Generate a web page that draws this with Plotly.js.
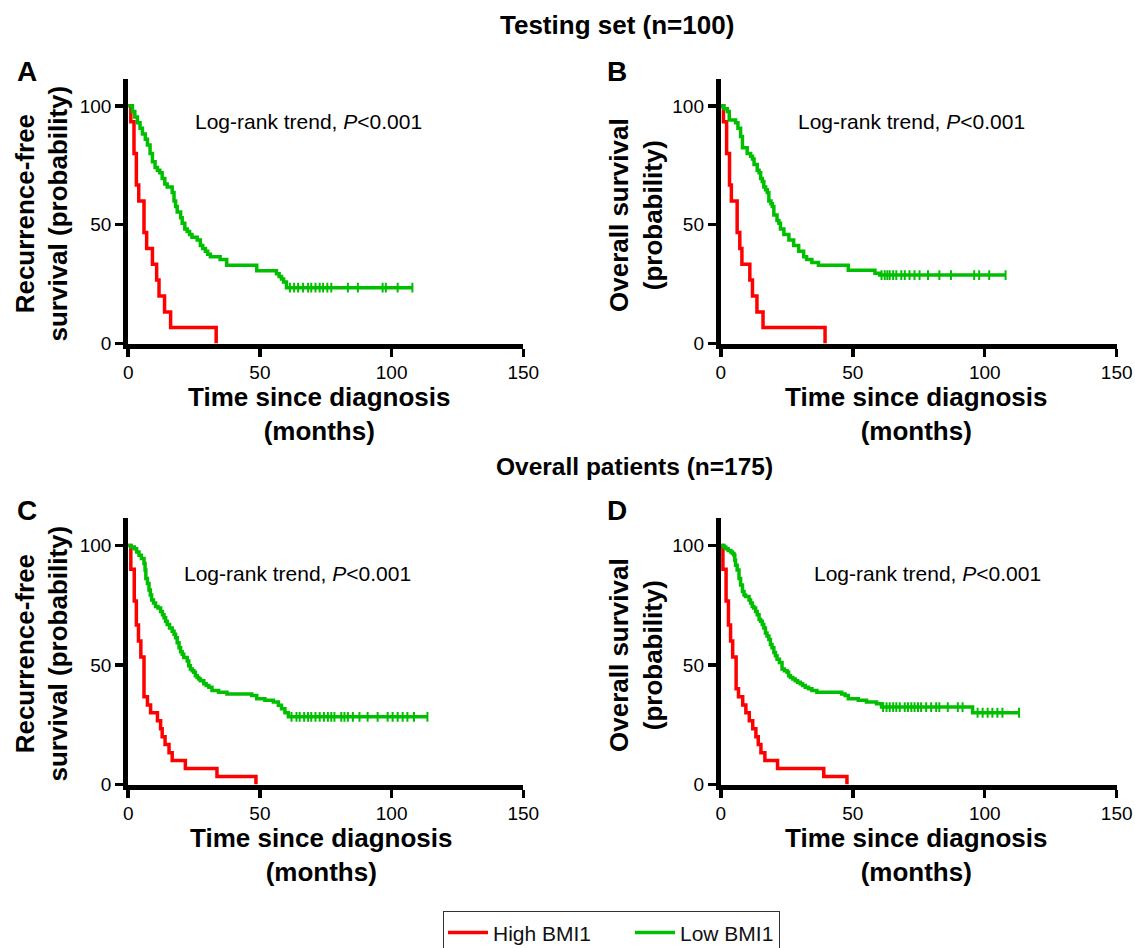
<!DOCTYPE html>
<html><head><meta charset="utf-8">
<script src="https://cdn.plot.ly/plotly-3.0.1.min.js"></script>
<style>html,body{margin:0;padding:0;background:#fff}#chart{width:1135px;height:948px}</style>
</head><body><div id="chart"></div>
<script>
// ---------- DATA ----------
const xTicks = [0, 50, 100, 150];
const yTicks = [0, 50, 100];
const seriesNames = ["High BMI1", "Low BMI1"];

// Panel A: testing set, recurrence-free survival
const rfsTestHighT = [0, 1.0, 2.2, 3.1, 4.0, 6.0, 7.0, 9.2, 10.8, 11.7, 13.8, 16.1, 33.4];
const rfsTestHighS = [100, 93.3, 80, 66.7, 60, 46.7, 40, 33.3, 26.7, 20, 13.3, 6.7, 0];
const rfsTestLowT = [0, 1.6, 2.5, 3.5, 4.5, 5.4, 6.5, 7.3, 8.3, 9.2, 10.2, 11.1, 12.0, 12.9, 13.9, 14.8, 16.7, 17.4, 18.0, 18.6, 19.9, 20.5, 21.5, 22.4, 23.3, 24.2, 26.2, 27.4, 28.3, 29.3, 30.2, 31.2, 34.9, 37.4, 48.8, 56.3, 57.3, 58.2, 59.0, 60.1, 108];
const rfsTestLowS = [100, 97.6, 95.3, 92.9, 90.6, 88.2, 85.9, 83.5, 80.0, 76.5, 74.1, 72.9, 71.8, 69.4, 67.1, 65.9, 63.5, 60.0, 57.6, 55.3, 52.9, 50.6, 48.2, 47.1, 45.9, 44.7, 43.5, 41.2, 40.0, 38.8, 37.6, 36.5, 35.3, 32.9, 30.6, 29.4, 28.2, 27.1, 25.9, 23.5, 23.5];
const rfsTestLowCens = [61.4, 63.0, 64.5, 66.4, 68.3, 69.5, 71.1, 72.7, 74.0, 75.6, 77.1, 83.4, 87.2, 96.6, 97.8, 102.3, 107.9];

// Panel B: testing set, overall survival
const osTestHighT = [0, 1.0, 2.2, 3.3, 4.0, 6.2, 7.2, 8.0, 11.0, 12.0, 13.7, 16.0, 39.5];
const osTestHighS = [100, 93.3, 80, 66.7, 60, 46.7, 40, 33.3, 26.7, 20, 13.3, 6.7, 0];
const osTestLowT = [0, 1.2, 2.5, 3.2, 5.6, 6.5, 7.5, 8.2, 10.0, 11.3, 12.0, 12.6, 13.8, 14.5, 15.1, 15.7, 16.3, 17.0, 17.6, 18.2, 19.0, 19.5, 20.1, 21.3, 22.0, 22.6, 23.9, 25.8, 27.6, 29.5, 31.4, 32.5, 34.5, 37.0, 48.3, 58.4, 60.2, 108];
const osTestLowS = [100, 98.8, 97.6, 94.1, 92.9, 90.6, 87.1, 82.4, 80.0, 78.8, 77.6, 75.3, 72.9, 71.8, 69.4, 68.2, 65.9, 64.7, 63.5, 60.0, 58.8, 57.6, 54.1, 51.8, 50.6, 48.2, 45.9, 43.5, 41.2, 38.8, 36.5, 35.3, 34.1, 32.9, 30.8, 29.6, 28.8, 28.8];
const osTestLowCens = [60.9, 62.1, 63.1, 64.0, 65.3, 66.5, 68.4, 69.7, 71.5, 73.4, 75.3, 78.5, 82.8, 87.2, 96.0, 97.9, 101.7, 107.9];

// Panel C: overall patients, recurrence-free survival
const rfsAllHighT = [0, 1.0, 2.3, 3.1, 3.9, 4.8, 6.0, 7.3, 8.5, 11.1, 12.3, 12.9, 14.0, 15.5, 16.7, 21.7, 33.7, 48.5];
const rfsAllHighS = [100, 90, 76.7, 66.7, 60, 53.3, 36.7, 33.3, 30, 26.7, 23.3, 20, 16.7, 13.3, 10, 6.7, 3.3, 0];
const rfsAllLowT = [0, 1.0, 2.3, 3.2, 4.1, 5.0, 6.0, 6.4, 6.7, 7.3, 7.9, 8.4, 8.9, 9.6, 10.4, 11.3, 12.3, 13.0, 13.6, 14.2, 14.8, 15.7, 16.7, 17.4, 18.0, 18.6, 19.3, 19.9, 20.5, 21.1, 22.4, 23.0, 23.6, 24.3, 24.9, 25.5, 26.2, 26.8, 27.4, 28.7, 29.6, 30.6, 31.8, 34.3, 37.5, 46.9, 48.8, 51.9, 55.1, 57.0, 58.2, 59.5, 60.8, 113.6];
const rfsAllLowS = [100, 99.3, 98.6, 97.2, 95.9, 94.5, 92.4, 89.7, 86.2, 84.1, 81.4, 79.3, 77.2, 75.9, 74.5, 73.8, 72.4, 71.0, 69.7, 68.3, 66.9, 65.5, 64.1, 62.8, 61.4, 59.3, 57.2, 55.5, 54.5, 53.1, 51.7, 49.7, 48.3, 47.6, 46.9, 45.5, 44.8, 44.1, 43.4, 42.1, 41.4, 40.7, 39.3, 38.6, 37.9, 37.2, 35.9, 35.2, 34.5, 33.1, 31.7, 30.0, 28.3, 28.3];
const rfsAllLowCens = [62.0, 63.9, 65.1, 66.8, 68.3, 69.5, 71.1, 72.7, 74.3, 75.8, 77.1, 78.3, 80.9, 82.1, 83.4, 85.3, 87.8, 90.9, 94.7, 98.5, 100.4, 102.3, 104.2, 106.0, 108.5, 113.6];

// Panel D: overall patients, overall survival
const osAllHighT = [0, 0.8, 2.0, 2.9, 3.7, 4.5, 5.8, 6.7, 8.3, 9.5, 10.8, 12.1, 13.3, 14.2, 15.2, 16.7, 21.5, 39.0, 47.8];
const osAllHighS = [100, 90, 76.7, 66.7, 60, 53.3, 40, 36.7, 33.3, 30, 26.7, 23.3, 20, 16.7, 13.3, 10, 6.7, 3.3, 0];
const osAllLowT = [0, 1.2, 1.9, 2.8, 3.8, 4.4, 5.0, 5.3, 5.6, 6.2, 6.9, 7.5, 8.2, 8.8, 9.4, 10.7, 11.3, 11.9, 12.5, 13.2, 13.8, 14.5, 15.1, 15.7, 16.3, 16.9, 17.5, 18.2, 18.8, 19.4, 20.1, 20.7, 21.3, 22.2, 23.2, 24.1, 25.1, 25.7, 26.4, 27.3, 28.2, 29.1, 30.1, 31.0, 32.0, 33.2, 34.5, 36.4, 45.8, 47.1, 48.3, 52.1, 55.2, 59.0, 60.9, 95.4, 113.0];
const osAllLowS = [100, 99.3, 98.6, 97.9, 97.2, 96.6, 95.9, 93.8, 91.7, 89.7, 86.2, 83.4, 80.7, 79.3, 78.6, 77.2, 75.9, 74.5, 73.8, 72.4, 71.0, 69.0, 68.3, 66.9, 65.5, 63.4, 62.1, 60.7, 58.6, 57.2, 55.2, 53.8, 52.4, 51.0, 48.3, 47.6, 46.9, 45.5, 44.8, 44.1, 43.4, 42.8, 42.1, 41.4, 40.7, 40.0, 39.3, 38.6, 37.9, 37.2, 35.9, 35.2, 34.5, 33.8, 32.4, 30.0, 30.0];
const osAllLowCens = [61.5, 62.8, 64.0, 65.3, 66.5, 67.8, 69.7, 70.9, 72.2, 73.4, 74.7, 75.9, 77.8, 79.7, 81.6, 82.8, 86.0, 89.8, 91.6, 97.3, 99.2, 101.1, 102.9, 104.8, 106.7, 113.0];

// ---------- LAYOUT / STYLE ----------
const W = 1135, H = 948;
const FONT = "Liberation Sans, Arial, Helvetica, sans-serif";
const RED = "#ff0000", GREEN = "#00bf00";
const fx = px => px / W;
const fy = px => 1 - px / H;

function stepAt(T, S, t) {
  let v = S[0];
  for (let i = 0; i < T.length; i++) { if (T[i] <= t) v = S[i]; }
  return v;
}

const panels = [
  {n: "", hT: rfsTestHighT, hS: rfsTestHighS, lT: rfsTestLowT, lS: rfsTestLowS, c: rfsTestLowCens, l: 128.2, r: 523.3, t: 79, b: 343.5},
  {n: "2", hT: osTestHighT, hS: osTestHighS, lT: osTestLowT, lS: osTestLowS, c: osTestLowCens, l: 720.8, r: 1116.7, t: 79, b: 343.5},
  {n: "3", hT: rfsAllHighT, hS: rfsAllHighS, lT: rfsAllLowT, lS: rfsAllLowS, c: rfsAllLowCens, l: 128.2, r: 523.3, t: 518.4, b: 784.5},
  {n: "4", hT: osAllHighT, hS: osAllHighS, lT: osAllLowT, lS: osAllLowS, c: osAllLowCens, l: 720.8, r: 1116.7, t: 518.4, b: 784.5}
];

const data = [];
const layout = {
  width: W, height: H,
  margin: {l: 0, r: 0, t: 0, b: 0, autoexpand: false},
  paper_bgcolor: "#fff", plot_bgcolor: "rgba(0,0,0,0)",
  font: {family: FONT, color: "#000"},
  showlegend: true,
  legend: {
    orientation: "h", x: fx(443), y: fy(911), xanchor: "left", yanchor: "top",
    bordercolor: "#333", borderwidth: 1.3, bgcolor: "#fff",
    font: {family: FONT, size: 21, color: "#111"}, itemwidth: 40
  },
  annotations: [], shapes: []
};

panels.forEach((p, i) => {
  const xa = "x" + p.n, ya = "y" + p.n;
  const axCommon = {
    showline: true, linewidth: 5, linecolor: "#000", mirror: false,
    ticks: "outside", ticklen: 8, tickwidth: 3.5, tickcolor: "#000",
    showgrid: false, zeroline: false, fixedrange: true,
    tickfont: {family: FONT, size: 19, color: "#000"}
  };
  layout["xaxis" + p.n] = Object.assign({}, axCommon, {
    domain: [fx(p.l), fx(p.r)], anchor: ya, range: [0, 150], tickvals: xTicks
  });
  layout["yaxis" + p.n] = Object.assign({}, axCommon, {
    domain: [fy(p.b), fy(p.t)], anchor: xa, range: [0, 111.3], tickvals: yTicks
  });
  const highTrace = {
    type: "scatter", mode: "lines", x: p.hT, y: p.hS, xaxis: xa, yaxis: ya,
    line: {color: RED, width: 3.5, shape: "hv"}, name: seriesNames[0],
    showlegend: i === 0, legendgroup: "high", hoverinfo: "skip"
  };
  if (i === 0) highTrace.legendwidth = 132;
  data.push(highTrace);
  data.push({
    type: "scatter", mode: "lines", x: p.lT, y: p.lS, xaxis: xa, yaxis: ya,
    line: {color: GREEN, width: 3.5, shape: "hv"}, name: seriesNames[1],
    showlegend: i === 0, legendgroup: "low", hoverinfo: "skip"
  });
  data.push({
    type: "scatter", mode: "markers", x: p.c, y: p.c.map(t => stepAt(p.lT, p.lS, t)),
    xaxis: xa, yaxis: ya, showlegend: false, legendgroup: "low", hoverinfo: "skip",
    marker: {symbol: "line-ns", size: 7, line: {color: GREEN, width: 2}, color: GREEN}
  });
});

// Text annotations
function ann(text, x, y, size, opts) {
  layout.annotations.push(Object.assign({
    text: text, xref: "paper", yref: "paper", x: fx(x), y: fy(y),
    xanchor: "center", yanchor: "middle", showarrow: false,
    font: {family: FONT, size: size, color: "#000"}
  }, opts || {}));
}
ann("<b>Testing set (n=100)</b>", 617, 25, 26);
ann("<b>Overall patients (n=175)</b>", 634, 466, 24.5);
ann("<b>A</b>", 27, 72, 28);
ann("<b>B</b>", 617, 72, 28);
ann("<b>C</b>", 27, 510, 28);
ann("<b>D</b>", 617, 510, 28);
const lr = "Log-rank trend, <i>P</i><0.001";
ann(lr, 308, 122, 21);
ann(lr, 911, 122, 21);
ann(lr, 297, 573, 21);
ann(lr, 927, 573, 21);
const xt = "<b>Time since diagnosis<br>(months)</b>";
ann(xt, 319, 413.5, 26);
ann(xt, 916, 413.5, 26);
ann(xt, 321, 854.5, 26);
ann(xt, 916, 854.5, 26);
ann("<b>Recurrence-free<br>survival (probability)</b>", 41.5, 214, 26, {textangle: -90});
ann("<b>Overall survival<br>(probability)</b>", 636, 215, 26, {textangle: -90});
ann("<b>Recurrence-free<br>survival (probability)</b>", 41.5, 654, 26, {textangle: -90});
ann("<b>Overall survival<br>(probability)</b>", 636, 655, 26, {textangle: -90});

Plotly.newPlot("chart", data, layout, {displayModeBar: false, staticPlot: true});
</script></body></html>
